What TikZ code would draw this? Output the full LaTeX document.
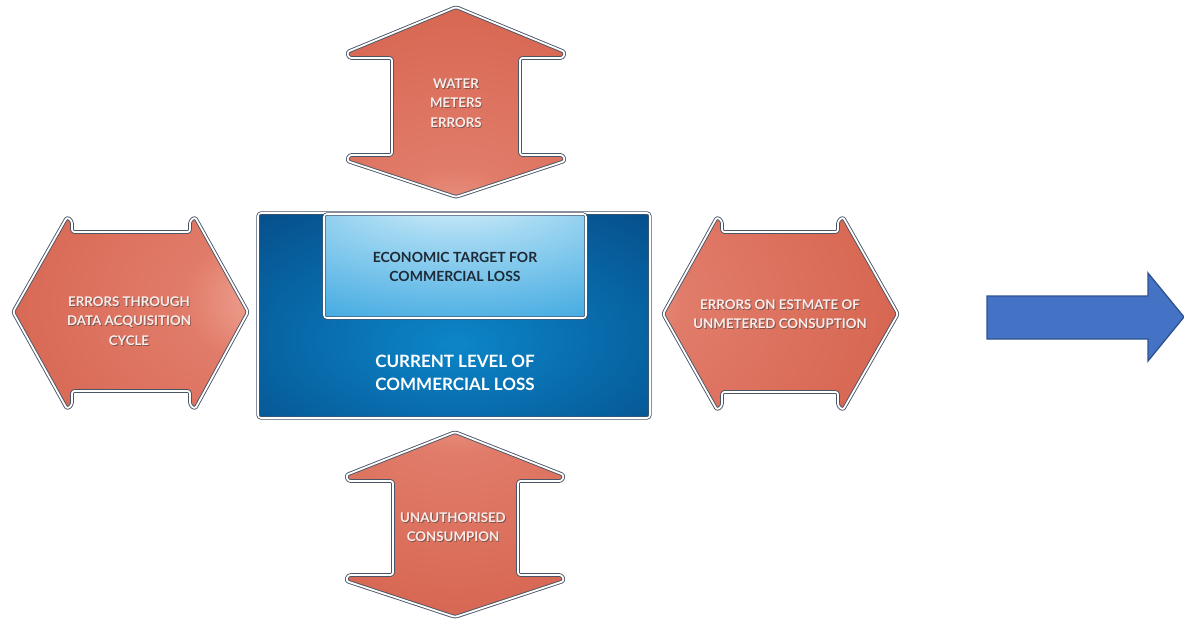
\documentclass[tikz,border=0pt]{standalone}
\usepackage{fontspec}
\setmainfont{Lato}
\usetikzlibrary{fadings}

\definecolor{edgegray}{HTML}{4A5566}
\definecolor{pinkwhite}{HTML}{FCEDEA}
\definecolor{rgA}{HTML}{F9D2C9}
\definecolor{rgB}{HTML}{EE9F8F}
\definecolor{rgC}{HTML}{E17C6A}
\definecolor{rgD}{HTML}{D66550}
\definecolor{rgE}{HTML}{C9503C}
\definecolor{cbA}{HTML}{0C86C8}
\definecolor{cbB}{HTML}{0869A9}
\definecolor{cbC}{HTML}{054680}
\definecolor{cbD}{HTML}{032A56}
\definecolor{lbA}{HTML}{EEF8FD}
\definecolor{lbB}{HTML}{A2D8F2}
\definecolor{lbC}{HTML}{3AA6E0}
\definecolor{lbD}{HTML}{2290D2}
\definecolor{darrowfill}{HTML}{4472C4}
\definecolor{darrowedge}{HTML}{2F528F}
\definecolor{darktext}{HTML}{1E2A36}

% red double arrows: glow placed towards the central box
\pgfdeclareradialshading{glowS}{\pgfpoint{0bp}{-40bp}}{color(0bp)=(rgA);color(5bp)=(rgB);color(16bp)=(rgC);color(50bp)=(rgD);color(100bp)=(rgE)}
\pgfdeclareradialshading{glowN}{\pgfpoint{0bp}{42bp}}{color(0bp)=(rgA);color(5bp)=(rgB);color(16bp)=(rgC);color(50bp)=(rgD);color(100bp)=(rgE)}
\pgfdeclareradialshading{glowE}{\pgfpoint{33bp}{4bp}}{color(0bp)=(rgA);color(5bp)=(rgB);color(16bp)=(rgC);color(50bp)=(rgD);color(100bp)=(rgE)}
\pgfdeclareradialshading{glowW}{\pgfpoint{-44bp}{4bp}}{color(0bp)=(rgA);color(5bp)=(rgB);color(16bp)=(rgC);color(50bp)=(rgD);color(100bp)=(rgE)}
% blue boxes
\pgfdeclareradialshading{coreblue}{\pgfpoint{0bp}{-7bp}}{color(0bp)=(cbA);color(20bp)=(cbB);color(45bp)=(cbC);color(75bp)=(cbD);color(100bp)=(cbD)}
\pgfdeclareradialshading{targetblue}{\pgfpoint{0bp}{42bp}}{color(0bp)=(lbA);color(20bp)=(lbB);color(55bp)=(lbC);color(100bp)=(lbD)}

\tikzset{
  redarrow/.style={draw=edgegray, double=white, double distance=1.8pt, line width=0.9pt,
                   rounded corners=2.5pt, line join=round, shade},
  bluebox/.style={draw=edgegray, double=white, double distance=1.6pt, line width=0.8pt,
                  rounded corners=3pt, shade},
  arrowtxt/.style={font=\bfseries\fontsize{13.3}{19.5}\selectfont, text=pinkwhite, align=center, inner sep=0pt},
  arrowshadow/.style={arrowtxt, text=black!75, opacity=0.6, xshift=0.9pt, yshift=-1pt},
  targettxt/.style={font=\bfseries\fontsize{14}{19.5}\selectfont, text=darktext, align=center, inner sep=0pt},
  coretxt/.style={font=\bfseries\fontsize{17}{23}\selectfont, text=white, align=center, inner sep=0pt},
  blockarrow/.style={fill=darrowfill, draw=darrowedge, line width=1.3pt, line join=miter},
}

\newcommand\embossed[3]{%
  \node[arrowshadow] (#1s) at #2 {#3};
  \node[arrowtxt] (#1) at #2 {#3};}

\begin{document}
\begin{tikzpicture}[x=1pt, y=-1pt]
\useasboundingbox (0,0) rectangle (1184,627);

% central box and economic target
\draw[bluebox, shading=coreblue] (258,213) rectangle (650,418);
\draw[bluebox, shading=targetblue] (324,214) rectangle (586,318);
\node[targettxt] (target) at (455,267) {ECONOMIC TARGET FOR\\COMMERCIAL LOSS};
\node[coretxt] (current) at (455,373) {CURRENT LEVEL OF\\COMMERCIAL LOSS};

% top double arrow
\draw[redarrow, shading=glowS]
  (456,7) -- (347,52) -- (349,58) -- (392,58) -- (392,155) -- (349,155) -- (347,161)
  -- (456,197) -- (565,161) -- (563,155) -- (520,155) -- (520,58) -- (563,58) -- (565,52) -- cycle;
\embossed{meters}{(456,103)}{WATER\\METERS\\ERRORS}

% bottom double arrow
\draw[redarrow, shading=glowN]
  (455,432) -- (346,475) -- (348,481) -- (393,481) -- (393,575) -- (348,575) -- (346,581)
  -- (455,617) -- (564,581) -- (562,575) -- (518,575) -- (518,481) -- (562,481) -- (564,475) -- cycle;
\embossed{unauth}{(453,527)}{UNAUTHORISED\\CONSUMPION}

% left double arrow
\draw[redarrow, shading=glowE]
  (13,312) -- (67,217) -- (72,221) -- (72,232) -- (190,232) -- (190,221) -- (195,217)
  -- (248,312) -- (195,409) -- (190,405) -- (190,391) -- (72,391) -- (72,405) -- (67,409) -- cycle;
\embossed{acq}{(129,321)}{ERRORS THROUGH\\DATA ACQUISITION\\CYCLE}

% right double arrow
\draw[redarrow, shading=glowW]
  (663,314) -- (717,217) -- (722,221) -- (722,232) -- (838,232) -- (838,221) -- (843,217)
  -- (898,314) -- (843,410) -- (838,406) -- (838,392) -- (722,392) -- (722,406) -- (717,410) -- cycle;
\embossed{unmet}{(780,314)}{ERRORS ON ESTMATE OF\\UNMETERED CONSUPTION}

% plain block arrow on the right
\draw[blockarrow]
  (987,296) -- (1148,296) -- (1148,273) -- (1184,317) -- (1148,361) -- (1148,339) -- (987,339) -- cycle;
\end{tikzpicture}
\end{document}
